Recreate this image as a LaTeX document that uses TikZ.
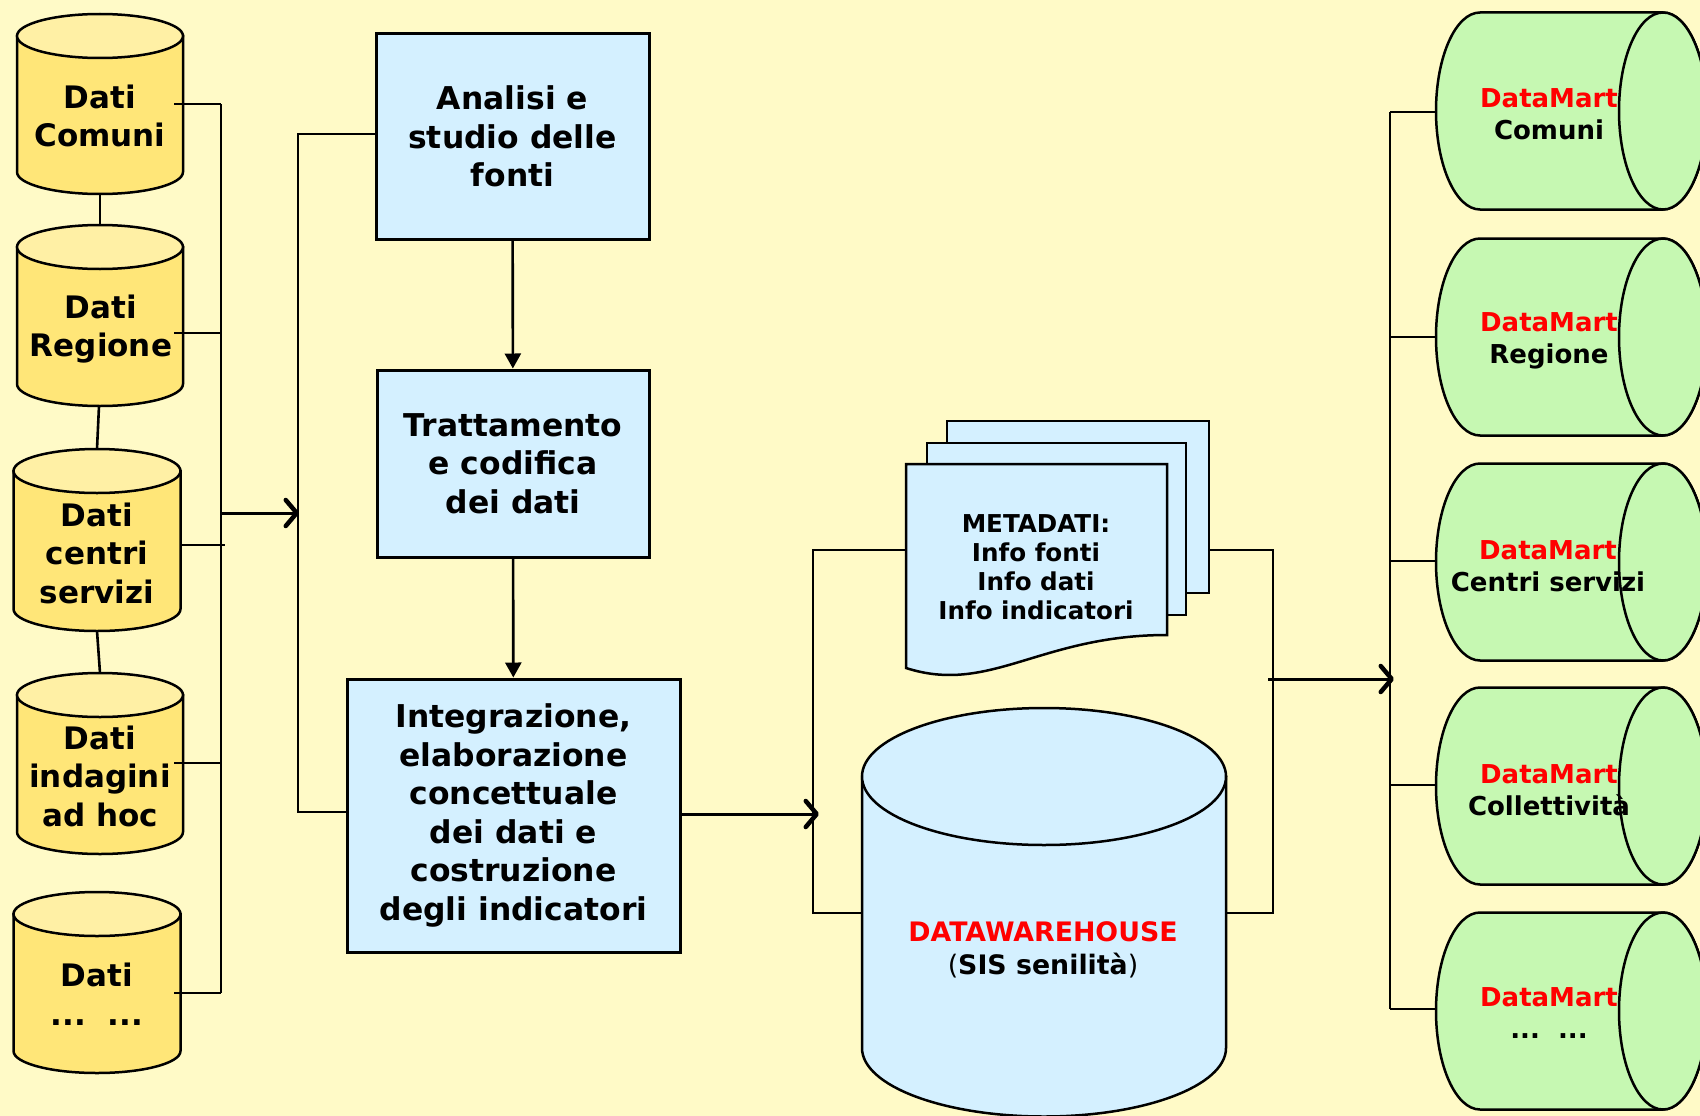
\documentclass[tikz,border=0pt]{standalone}
\usepackage{fontspec}
\setmainfont{DejaVu Sans}
\usetikzlibrary{arrows.meta}

\definecolor{sfondo}{RGB}{255,250,199}
\definecolor{giallo}{RGB}{255,230,120}
\definecolor{giallochiaro}{RGB}{255,240,165}
\definecolor{azzurro}{RGB}{212,240,255}
\definecolor{verde}{RGB}{198,248,178}
\definecolor{rosso}{RGB}{255,0,0}

% vertical cylinder: x, top y, bottom y, x radius, y radius, body colour, top colour
\newcommand{\vcyl}[7]{%
  \draw[line width=2.5pt, fill=#6] ({#1-#4},#2) -- ({#1-#4},#3)
     arc[start angle=180, end angle=0, x radius=#4, y radius=#5] -- ({#1+#4},#2) -- cycle;
  \draw[line width=2.5pt, fill=#7] (#1,#2) ellipse [x radius=#4, y radius=#5];
}
% lying cylinder (datamart): centre y
\newcommand{\hcyl}[1]{%
  \draw[line width=2.5pt, fill=verde] (1480,{#1-98.5}) -- (1663,{#1-98.5})
     arc[start angle=-90, end angle=90, x radius=44, y radius=98.5] -- (1480,{#1+98.5})
     arc[start angle=90, end angle=270, x radius=44, y radius=98.5] -- cycle;
  \draw[line width=2.5pt, fill=verde] (1663,#1) ellipse [x radius=44, y radius=98.5];
}

\begin{document}
\begin{tikzpicture}[x=1pt,y=-1pt,
    line width=2.6pt,
    txt/.style={align=center, inner sep=0pt, font=\bfseries\fontsize{31}{38.5}\selectfont},
    dmtxt/.style={align=center, inner sep=0pt, font=\bfseries\fontsize{26}{32}\selectfont},
    fase/.style={draw, line width=3pt, fill=azzurro, inner sep=0pt, align=center,
                 font=\bfseries\fontsize{31.4}{38.5}\selectfont},
    giu/.style={-{Triangle[length=15pt,width=16pt]}},
    openarr/.style={line width=3pt, -{Straight Barb[length=11pt,width=26pt,line width=4.5pt,round]}}]

    \fill[sfondo] (0,0) rectangle (1700,1116);
    \useasboundingbox (0,0) rectangle (1700,1116);

	%%% fonti
    \vcyl{100}{36}{172}{83}{22}{giallo}{giallochiaro}
    \vcyl{100}{247}{384}{83}{22}{giallo}{giallochiaro}
    \vcyl{97}{471}{609}{83.5}{22}{giallo}{giallochiaro}
    \vcyl{100}{695}{832}{83}{22}{giallo}{giallochiaro}
    \vcyl{97}{914}{1051}{83.5}{22}{giallo}{giallochiaro}

    \node[txt] (dcom) at (100,116) {Dati\\Comuni};
    \node[txt] (dreg) at (101,329) {Dati\\Regione};
    \node[txt] (dcen) at (97,553) {Dati\\centri\\servizi};
    \node[txt] (dind) at (100,776) {Dati\\indagini\\ad hoc};
    \node[txt] (dalt) at (97,994) {Dati\\...\ \ ...};

    \coordinate (K1) at (100,194);
    \coordinate (K2) at (100,225);
    \coordinate (K3) at (99,406);
    \coordinate (K4) at (97,449);
    \coordinate (K5) at (97,631);
    \coordinate (K6) at (100,673);
    \draw (K1) -- (K2);
    \draw (K3) -- (K4);
    \draw (K5) -- (K6);

    \coordinate (L1) at (174,104);
    \coordinate (L2) at (174,333);
    \coordinate (L3) at (180,545);
    \coordinate (L4) at (174,763);
    \coordinate (L5) at (174,993);
    \coordinate (B1) at (221,104);
    \coordinate (B2) at (221,333);
    \coordinate (B3) at (225,545);
    \coordinate (B4) at (221,763);
    \coordinate (B5) at (221,993);

    \draw (L1) -- (B1);
    \draw (L2) -- (B2);
    \draw (L3) -- (B3);
    \draw (L4) -- (B4);
    \draw (L5) -- (B5);
    \draw (B1) -- (B5);

	%%% fasi
    \node[fase, minimum width=273, minimum height=205] (analisi) at (512.5,136.5)
        {Analisi e\\studio delle\\fonti};
    \node[fase, minimum width=272, minimum height=187] (tratt) at (513,463.5)
        {Trattamento\\e codifica\\dei dati};
    \node[fase, minimum width=333, minimum height=273] (integr) at (513.5,815.5)
        {Integrazione,\\elaborazione\\concettuale\\dei dati e\\costruzione\\degli indicatori};

    \coordinate (S1) at (221,513);
    \coordinate (S2) at (299,513);
    \coordinate (T1) at (298,134);
    \coordinate (T2) at (298,812);
    \draw[openarr] (S1) -- (S2);
    \draw (T1 -| analisi.west) -- (T1) -- (T2) -- (T2 -| integr.west);

    \draw[giu] (analisi) -- (tratt);
    \draw[giu] (tratt) -- (integr);

	%%% metadati
    \draw[line width=2.5pt, fill=azzurro] (947,421) rectangle (1209,593);
    \draw[line width=2.5pt, fill=azzurro] (927,443) rectangle (1186,615);
    \draw[line width=2.5pt, fill=azzurro] (906,464) -- (1167,464) -- (1167,635)
        .. controls (1040,635) and (990,695) .. (906,668) -- cycle;
    \node[align=center, inner sep=0pt, font=\bfseries\fontsize{24.6}{29}\selectfont] (meta)
        at (1036,567) {METADATI:\\Info fonti\\Info dati\\Info indicatori};

	%%% datawarehouse
    \vcyl{1044}{776.5}{1048}{182}{68.5}{azzurro}{azzurro}
    \node[dmtxt, font=\bfseries\fontsize{26.8}{33}\selectfont] (dw) at (1043,950)
        {\textcolor{rosso}{DATAWAREHOUSE}\\{\mdseries(}SIS senilità{\mdseries)}};

    \coordinate (M0) at (819,814);
    \coordinate (M1) at (813,550);
    \coordinate (M2) at (813,913);
    \coordinate (D1) at (906,550);
    \coordinate (W1) at (862,913);
    \draw[openarr] (integr.east |- M0) -- (M0);
    \draw (D1) -- (M1) -- (M2) -- (W1);

    \coordinate (D2) at (1209,550);
    \coordinate (R1) at (1273,550);
    \coordinate (R2) at (1273,913);
    \coordinate (W2) at (1226,913);
    \draw (D2) -- (R1) -- (R2) -- (W2);

	%%% datamart
    \hcyl{111}
    \hcyl{337}
    \hcyl{562}
    \hcyl{786}
    \hcyl{1011}

    \node[dmtxt] (mcom) at (1549,114) {\textcolor{rosso}{DataMart}\\Comuni};
    \node[dmtxt] (mreg) at (1549,341) {\textcolor{rosso}{DataMart}\\Regione};
    \node[dmtxt] (mcen) at (1548,566) {\textcolor{rosso}{DataMart}\\Centri servizi};
    \node[dmtxt] (mcol) at (1549,790) {\textcolor{rosso}{DataMart}\\Collettività};
    \node[dmtxt] (malt) at (1549,1013) {\textcolor{rosso}{DataMart}\\...\ \ ...};

    \coordinate (R3) at (1268,679);
    \coordinate (R4) at (1394,679);
    \draw[openarr] (R3) -- (R4);

    \coordinate (Q1) at (1390,112);
    \coordinate (Q2) at (1390,337);
    \coordinate (Q3) at (1390,561);
    \coordinate (Q4) at (1390,785);
    \coordinate (Q5) at (1390,1009);
    \draw (Q1) -- (Q5);
    \draw (Q1) -- (1436,112);
    \draw (Q2) -- (1436,337);
    \draw (Q3) -- (1436,561);
    \draw (Q4) -- (1436,785);
    \draw (Q5) -- (1436,1009);

\end{tikzpicture}
\end{document}
